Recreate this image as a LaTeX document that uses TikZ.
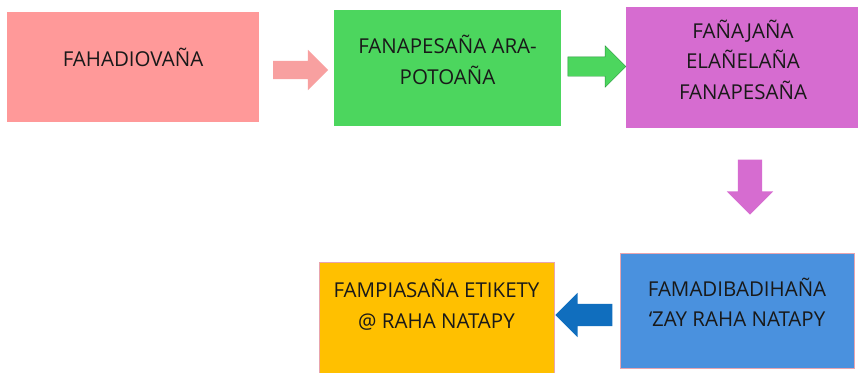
\documentclass[tikz,border=0pt]{standalone}
\usepackage{fontspec}
\setmainfont{Open Sans}
\usepackage{tikz}
\usetikzlibrary{shapes.arrows, positioning}

\definecolor{boxpink}{RGB}{255,153,153}
\definecolor{boxgreen}{RGB}{76,214,94}
\definecolor{boxpurple}{RGB}{214,108,208}
\definecolor{boxblue}{RGB}{74,145,222}
\definecolor{boxorange}{RGB}{255,192,0}
\definecolor{arrowpink}{RGB}{248,160,160}
\definecolor{arrowblue}{RGB}{16,110,190}
\definecolor{edgegreen}{RGB}{40,150,60}
\definecolor{edgerose}{RGB}{232,165,175}

\begin{document}
\begin{tikzpicture}[
    x=1pt, y=-1pt,
    every node/.style={font=\fontsize{20.5}{30.5}\selectfont, text=black!90},
    stepbox/.style={rectangle, fill=#1, align=center, inner sep=0pt, text depth=16pt},
    blockarrow/.style={single arrow, fill=#1, inner xsep=0pt, single arrow head extend=11pt}
]
    \clip (0,0) rectangle (858,372);
    \fill[white] (0,0) rectangle (858,372);

    \node[stepbox=boxpink, minimum width=252pt, minimum height=110pt, text depth=20pt] (fahadiovana) at (133,67) {FAHADIOVAÑA};
    \node[stepbox=boxgreen, minimum width=227pt, minimum height=116pt] (fanapesana) at (447.5,68) {FANAPESAÑA ARA-\\POTOAÑA};
    \node[stepbox=boxpurple, minimum width=234pt, minimum height=121pt] (fanajana) at (743,67.5) {FAÑAJAÑA\\ELAÑELAÑA\\FANAPESAÑA};
    \node[stepbox=boxblue, draw=edgerose, minimum width=234pt, minimum height=115pt] (famadibadihana) at (737,310.5) {FAMADIBADIHAÑA\\‘ZAY RAHA NATAPY};
    \node[stepbox=boxorange, draw=edgerose, minimum width=235pt, minimum height=124pt, text depth=40pt] (fampiasana) at (436.5,324) {FAMPIASAÑA ETIKETY\\@ RAHA NATAPY};

    % block arrows between the steps
    \node[blockarrow=arrowpink, inner ysep=9pt, minimum height=55pt] (pinkarrow) at (296,70) {};
    \node[blockarrow=boxgreen, draw=edgegreen, inner ysep=9.5pt, minimum height=58pt] (greenarrow) at (592,66.5) {};
    \node[blockarrow=boxpurple, inner ysep=12pt, minimum height=55pt, rotate=-90] (purplearrow) at (750,181) {};
    \node[blockarrow=arrowblue, inner ysep=11pt, minimum height=57pt, rotate=180] (bluearrow) at (589.5,315) {};
\end{tikzpicture}
\end{document}
